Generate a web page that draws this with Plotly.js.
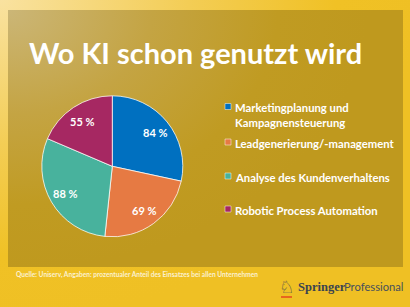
<!DOCTYPE html>
<html>
<head>
<meta charset="utf-8">
<script src="https://cdn.plot.ly/plotly-3.0.1.min.js"></script>
<style>
  html, body { margin: 0; padding: 0; width: 410px; height: 307px; overflow: hidden; }
  #bg { position: absolute; left: 0; top: 0; width: 410px; height: 307px;
        background: radial-gradient(ellipse 420px 320px at 0px 0px, #F9E2A0 0%, #F3CD55 45%, #F0C125 80%, #EFC024 100%); }
  #panel { position: absolute; left: 8px; top: 10px; width: 395px; height: 257px;
        background: radial-gradient(ellipse 360px 260px at 0px 0px, #CBB677 0%, #C4A443 40%, #C09B22 75%, #BF991E 100%); }
  #chart { position: absolute; left: 0; top: 0; width: 410px; height: 307px; }
</style>
</head>
<body>
<div id="bg"></div>
<div id="panel"></div>
<div id="chart"></div>
<script>
// ---- data ----
const categories = [
  "Marketingplanung und Kampagnensteuerung",
  "Leadgenerierung/-management",
  "Analyse des Kundenverhaltens",
  "Robotic Process Automation"
];
const values = [84, 69, 88, 55];
const colors = ["#0070C0", "#E67A43", "#48B29D", "#A62862"];
const legendLabels = [
  "Marketingplanung und<br>Kampagnensteuerung",
  "Leadgenerierung/-management",
  "Analyse des Kundenverhaltens",
  "Robotic Process Automation"
];
const titleText = "Wo KI schon genutzt wird";
const sourceText = "Quelle: Uniserv, Angaben: prozentualer Anteil des Einsatzes bei allen Unternehmen";

const W = 410, H = 307;
const px = x => x / W;
const py = y => 1 - y / H;

// pie geometry (pixels)
const cx = 112.3, cy = 166.3, r = 70.5;

const trace = {
  type: "pie",
  labels: categories,
  values: values,
  sort: false,
  direction: "clockwise",
  rotation: 0,
  marker: { colors: colors, line: { color: "rgba(255,255,255,0.75)", width: 1 } },
  textinfo: "none",
  hoverinfo: "none",
  showlegend: false,
  domain: { x: [px(cx - r), px(cx + r)], y: [py(cy + r), py(cy - r)] }
};

const annotations = [];
const shapes = [];

// value labels placed on each slice's bisector (derived from the values)
const total = values.reduce((a, b) => a + b, 0);
let cum = 0;
values.forEach((v, i) => {
  const mid = (cum + v / 2) / total * 2 * Math.PI;
  cum += v;
  const rr = r * 0.77;
  const x = cx + rr * Math.sin(mid);
  const y = cy - rr * Math.cos(mid);
  annotations.push({
    xref: "paper", yref: "paper", x: px(x), y: py(y), xanchor: "center", yanchor: "middle",
    showarrow: false, text: v + " %",
    font: { family: "Lato", size: 11, color: "#FFFFFF", weight: "bold" }
  });
});

// legend built from categories / colors
const legendY = [106.5, 142, 176, 209];
legendLabels.forEach((lab, i) => {
  shapes.push({
    type: "rect", xref: "paper", yref: "paper",
    x0: px(225), x1: px(231), y0: py(legendY[i] + 3), y1: py(legendY[i] - 3),
    fillcolor: colors[i], line: { color: "rgba(255,255,255,0.8)", width: 0.6 }
  });
  annotations.push({
    xref: "paper", yref: "paper", x: px(233), y: py(legendY[i] - 7.5),
    xanchor: "left", yanchor: "top", align: "left", showarrow: false,
    text: lab,
    font: { family: "Lato", size: 11.3, color: "#FFFFFF", weight: "bold" }
  });
});

// source
annotations.push({
  xref: "paper", yref: "paper", x: px(14), y: py(274), xanchor: "left", yanchor: "middle",
  showarrow: false, text: sourceText,
  font: { family: "Lato", size: 6.6, color: "#FBF1CF", weight: "bold" }
});

// Springer Professional logo
annotations.push({
  xref: "paper", yref: "paper", x: px(286), y: py(287), xanchor: "center", yanchor: "middle",
  showarrow: false, text: "\u2658",
  font: { family: "DejaVu Sans", size: 17, color: "#3A4350" }
});
shapes.push({
  type: "line", xref: "paper", yref: "paper",
  x0: px(281), x1: px(292), y0: py(297), y1: py(297),
  line: { color: "#E8661E", width: 2 }
});
annotations.push({
  xref: "paper", yref: "paper", x: px(296), y: py(286.5), xanchor: "left", yanchor: "middle",
  showarrow: false, text: "Springer",
  font: { family: "Liberation Serif", size: 12.5, color: "#3A4350", weight: "bold" }
});
annotations.push({
  xref: "paper", yref: "paper", x: px(405), y: py(286.5), xanchor: "right", yanchor: "middle",
  showarrow: false, text: "Professional",
  font: { family: "Lato", size: 11.2, color: "#48505C" }
});

const layout = {
  width: W, height: H,
  margin: { l: 0, r: 0, t: 0, b: 0 },
  paper_bgcolor: "rgba(0,0,0,0)",
  plot_bgcolor: "rgba(0,0,0,0)",
  title: {
    text: titleText, x: px(29), xanchor: "left", xref: "container",
    y: py(53.5), yanchor: "middle", yref: "container",
    font: { family: "Lato", size: 29, color: "#FFFFFF", weight: "bold" }
  },
  showlegend: false,
  annotations: annotations,
  shapes: shapes
};

Plotly.newPlot("chart", [trace], layout, { displayModeBar: false, staticPlot: true });
</script>
</body>
</html>
